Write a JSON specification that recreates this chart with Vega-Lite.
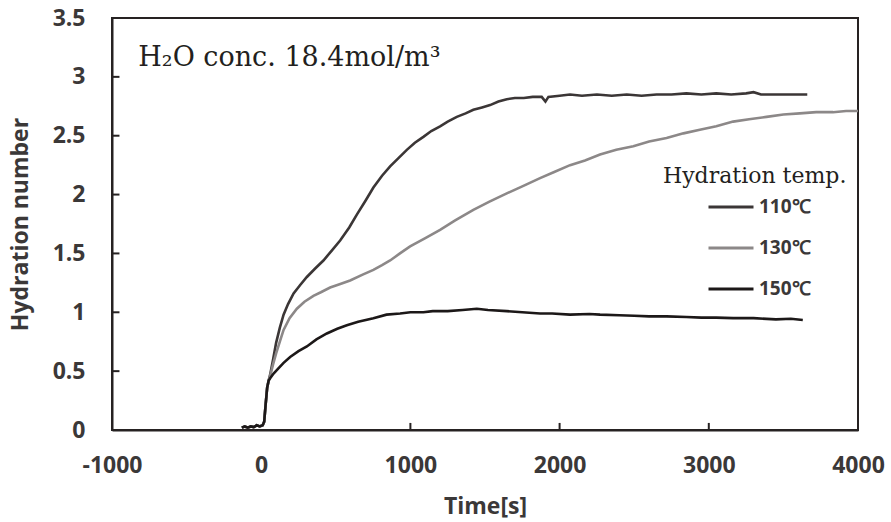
{
  "$schema": "https://vega.github.io/schema/vega-lite/v6.json",
  "width": 746,
  "height": 412,
  "autosize": {"type": "none"},
  "padding": {"left": 112, "top": 18, "right": 33, "bottom": 92},
  "background": "white",
  "config": {
    "view": {"stroke": "#262222", "strokeWidth": 2},
    "font": "Open Sans"
  },
  "datasets": {
    "curves": [
      {"t": -130, "h": 0.02, "temp": "110℃"}, {"t": -110, "h": 0.03, "temp": "110℃"}, {"t": -90, "h": 0.02, "temp": "110℃"}, {"t": -70, "h": 0.03, "temp": "110℃"}, {"t": -50, "h": 0.025, "temp": "110℃"}, {"t": -30, "h": 0.04, "temp": "110℃"}, {"t": -10, "h": 0.03, "temp": "110℃"}, {"t": 10, "h": 0.04, "temp": "110℃"}, {"t": 20, "h": 0.07, "temp": "110℃"}, {"t": 30, "h": 0.22, "temp": "110℃"}, {"t": 40, "h": 0.36, "temp": "110℃"}, {"t": 50, "h": 0.42, "temp": "110℃"},
      {"t": 60, "h": 0.47, "temp": "110℃"}, {"t": 80, "h": 0.6, "temp": "110℃"}, {"t": 100, "h": 0.74, "temp": "110℃"}, {"t": 125, "h": 0.87, "temp": "110℃"}, {"t": 150, "h": 0.98, "temp": "110℃"}, {"t": 180, "h": 1.07, "temp": "110℃"}, {"t": 217, "h": 1.16, "temp": "110℃"}, {"t": 260, "h": 1.23, "temp": "110℃"}, {"t": 306, "h": 1.3, "temp": "110℃"}, {"t": 360, "h": 1.37, "temp": "110℃"}, {"t": 417, "h": 1.44, "temp": "110℃"}, {"t": 470, "h": 1.52, "temp": "110℃"}, {"t": 529, "h": 1.61, "temp": "110℃"}, {"t": 590, "h": 1.72, "temp": "110℃"}, {"t": 641, "h": 1.83, "temp": "110℃"}, {"t": 700, "h": 1.95, "temp": "110℃"}, {"t": 752, "h": 2.06, "temp": "110℃"}, {"t": 810, "h": 2.16, "temp": "110℃"}, {"t": 864, "h": 2.24, "temp": "110℃"}, {"t": 920, "h": 2.31, "temp": "110℃"}, {"t": 976, "h": 2.38, "temp": "110℃"}, {"t": 1030, "h": 2.44, "temp": "110℃"}, {"t": 1087, "h": 2.49, "temp": "110℃"}, {"t": 1140, "h": 2.54, "temp": "110℃"}, {"t": 1199, "h": 2.58, "temp": "110℃"}, {"t": 1250, "h": 2.62, "temp": "110℃"}, {"t": 1311, "h": 2.66, "temp": "110℃"}, {"t": 1370, "h": 2.69, "temp": "110℃"}, {"t": 1422, "h": 2.72, "temp": "110℃"}, {"t": 1480, "h": 2.74, "temp": "110℃"}, {"t": 1534, "h": 2.76, "temp": "110℃"}, {"t": 1590, "h": 2.79, "temp": "110℃"}, {"t": 1646, "h": 2.81, "temp": "110℃"}, {"t": 1700, "h": 2.82, "temp": "110℃"}, {"t": 1760, "h": 2.82, "temp": "110℃"}, {"t": 1820, "h": 2.83, "temp": "110℃"}, {"t": 1880, "h": 2.83, "temp": "110℃"}, {"t": 1905, "h": 2.79, "temp": "110℃"}, {"t": 1925, "h": 2.83, "temp": "110℃"}, {"t": 2000, "h": 2.84, "temp": "110℃"}, {"t": 2070, "h": 2.85, "temp": "110℃"}, {"t": 2150, "h": 2.84, "temp": "110℃"}, {"t": 2250, "h": 2.85, "temp": "110℃"}, {"t": 2350, "h": 2.84, "temp": "110℃"}, {"t": 2450, "h": 2.85, "temp": "110℃"}, {"t": 2550, "h": 2.84, "temp": "110℃"}, {"t": 2650, "h": 2.85, "temp": "110℃"}, {"t": 2750, "h": 2.85, "temp": "110℃"}, {"t": 2850, "h": 2.86, "temp": "110℃"}, {"t": 2950, "h": 2.85, "temp": "110℃"}, {"t": 3050, "h": 2.86, "temp": "110℃"}, {"t": 3150, "h": 2.85, "temp": "110℃"}, {"t": 3250, "h": 2.86, "temp": "110℃"}, {"t": 3300, "h": 2.87, "temp": "110℃"}, {"t": 3350, "h": 2.85, "temp": "110℃"}, {"t": 3450, "h": 2.85, "temp": "110℃"}, {"t": 3550, "h": 2.85, "temp": "110℃"}, {"t": 3660, "h": 2.85, "temp": "110℃"},

      {"t": -130, "h": 0.02, "temp": "130℃"}, {"t": -110, "h": 0.03, "temp": "130℃"}, {"t": -90, "h": 0.02, "temp": "130℃"}, {"t": -70, "h": 0.03, "temp": "130℃"}, {"t": -50, "h": 0.025, "temp": "130℃"}, {"t": -30, "h": 0.04, "temp": "130℃"}, {"t": -10, "h": 0.03, "temp": "130℃"}, {"t": 10, "h": 0.04, "temp": "130℃"}, {"t": 20, "h": 0.07, "temp": "130℃"}, {"t": 30, "h": 0.22, "temp": "130℃"}, {"t": 40, "h": 0.36, "temp": "130℃"}, {"t": 50, "h": 0.42, "temp": "130℃"},
      {"t": 60, "h": 0.46, "temp": "130℃"}, {"t": 80, "h": 0.56, "temp": "130℃"}, {"t": 100, "h": 0.65, "temp": "130℃"}, {"t": 127, "h": 0.76, "temp": "130℃"}, {"t": 150, "h": 0.85, "temp": "130℃"}, {"t": 190, "h": 0.95, "temp": "130℃"}, {"t": 239, "h": 1.03, "temp": "130℃"}, {"t": 290, "h": 1.09, "temp": "130℃"}, {"t": 350, "h": 1.14, "temp": "130℃"}, {"t": 400, "h": 1.17, "temp": "130℃"}, {"t": 462, "h": 1.21, "temp": "130℃"}, {"t": 530, "h": 1.24, "temp": "130℃"}, {"t": 596, "h": 1.27, "temp": "130℃"}, {"t": 680, "h": 1.32, "temp": "130℃"}, {"t": 752, "h": 1.36, "temp": "130℃"}, {"t": 810, "h": 1.4, "temp": "130℃"}, {"t": 864, "h": 1.44, "temp": "130℃"}, {"t": 930, "h": 1.5, "temp": "130℃"}, {"t": 998, "h": 1.56, "temp": "130℃"}, {"t": 1100, "h": 1.63, "temp": "130℃"}, {"t": 1199, "h": 1.7, "temp": "130℃"}, {"t": 1300, "h": 1.78, "temp": "130℃"}, {"t": 1422, "h": 1.87, "temp": "130℃"}, {"t": 1530, "h": 1.94, "temp": "130℃"}, {"t": 1646, "h": 2.01, "temp": "130℃"}, {"t": 1750, "h": 2.07, "temp": "130℃"}, {"t": 1869, "h": 2.14, "temp": "130℃"}, {"t": 1960, "h": 2.19, "temp": "130℃"}, {"t": 2070, "h": 2.25, "temp": "130℃"}, {"t": 2170, "h": 2.29, "temp": "130℃"}, {"t": 2271, "h": 2.34, "temp": "130℃"}, {"t": 2380, "h": 2.38, "temp": "130℃"}, {"t": 2494, "h": 2.41, "temp": "130℃"}, {"t": 2600, "h": 2.45, "temp": "130℃"}, {"t": 2717, "h": 2.48, "temp": "130℃"}, {"t": 2830, "h": 2.52, "temp": "130℃"}, {"t": 2940, "h": 2.55, "temp": "130℃"}, {"t": 3050, "h": 2.58, "temp": "130℃"}, {"t": 3163, "h": 2.62, "temp": "130℃"}, {"t": 3270, "h": 2.64, "temp": "130℃"}, {"t": 3387, "h": 2.66, "temp": "130℃"}, {"t": 3500, "h": 2.68, "temp": "130℃"}, {"t": 3610, "h": 2.69, "temp": "130℃"}, {"t": 3720, "h": 2.7, "temp": "130℃"}, {"t": 3833, "h": 2.7, "temp": "130℃"}, {"t": 3920, "h": 2.71, "temp": "130℃"}, {"t": 4000, "h": 2.71, "temp": "130℃"},

      {"t": -130, "h": 0.02, "temp": "150℃"}, {"t": -110, "h": 0.03, "temp": "150℃"}, {"t": -90, "h": 0.02, "temp": "150℃"}, {"t": -70, "h": 0.03, "temp": "150℃"}, {"t": -50, "h": 0.025, "temp": "150℃"}, {"t": -30, "h": 0.04, "temp": "150℃"}, {"t": -10, "h": 0.03, "temp": "150℃"}, {"t": 10, "h": 0.04, "temp": "150℃"}, {"t": 20, "h": 0.07, "temp": "150℃"}, {"t": 30, "h": 0.22, "temp": "150℃"}, {"t": 40, "h": 0.36, "temp": "150℃"}, {"t": 50, "h": 0.42, "temp": "150℃"},
      {"t": 60, "h": 0.44, "temp": "150℃"}, {"t": 83, "h": 0.48, "temp": "150℃"}, {"t": 120, "h": 0.53, "temp": "150℃"}, {"t": 150, "h": 0.57, "temp": "150℃"}, {"t": 194, "h": 0.62, "temp": "150℃"}, {"t": 250, "h": 0.67, "temp": "150℃"}, {"t": 306, "h": 0.71, "temp": "150℃"}, {"t": 370, "h": 0.77, "temp": "150℃"}, {"t": 440, "h": 0.82, "temp": "150℃"}, {"t": 510, "h": 0.86, "temp": "150℃"}, {"t": 574, "h": 0.89, "temp": "150℃"}, {"t": 650, "h": 0.92, "temp": "150℃"}, {"t": 752, "h": 0.95, "temp": "150℃"}, {"t": 840, "h": 0.98, "temp": "150℃"}, {"t": 931, "h": 0.99, "temp": "150℃"}, {"t": 1000, "h": 1.0, "temp": "150℃"}, {"t": 1087, "h": 1.0, "temp": "150℃"}, {"t": 1150, "h": 1.01, "temp": "150℃"}, {"t": 1250, "h": 1.01, "temp": "150℃"}, {"t": 1350, "h": 1.02, "temp": "150℃"}, {"t": 1445, "h": 1.03, "temp": "150℃"}, {"t": 1520, "h": 1.02, "temp": "150℃"}, {"t": 1646, "h": 1.01, "temp": "150℃"}, {"t": 1750, "h": 1.0, "temp": "150℃"}, {"t": 1869, "h": 0.99, "temp": "150℃"}, {"t": 1950, "h": 0.99, "temp": "150℃"}, {"t": 2070, "h": 0.98, "temp": "150℃"}, {"t": 2200, "h": 0.985, "temp": "150℃"}, {"t": 2271, "h": 0.98, "temp": "150℃"}, {"t": 2400, "h": 0.975, "temp": "150℃"}, {"t": 2500, "h": 0.97, "temp": "150℃"}, {"t": 2600, "h": 0.965, "temp": "150℃"}, {"t": 2717, "h": 0.965, "temp": "150℃"}, {"t": 2850, "h": 0.96, "temp": "150℃"}, {"t": 2950, "h": 0.955, "temp": "150℃"}, {"t": 3050, "h": 0.955, "temp": "150℃"}, {"t": 3163, "h": 0.95, "temp": "150℃"}, {"t": 3300, "h": 0.95, "temp": "150℃"}, {"t": 3450, "h": 0.94, "temp": "150℃"}, {"t": 3550, "h": 0.945, "temp": "150℃"}, {"t": 3630, "h": 0.935, "temp": "150℃"}
    ],
    "xticks": [{"t": 1000}, {"t": 2000}, {"t": 3000}],
    "yticks": [{"h": 0.5}, {"h": 1}, {"h": 1.5}, {"h": 2}, {"h": 2.5}, {"h": 3}],
    "note1": [{"t": -824, "h": 3.09, "label": "H₂O conc. 18.4mol/m³"}],
    "note2": [{"t": 2693, "h": 2.1, "label": "Hydration temp."}]
  },
  "layer": [
    {
      "data": {"name": "xticks"},
      "mark": {"type": "rule", "color": "#262222", "strokeWidth": 2},
      "encoding": {
        "x": {"field": "t", "type": "quantitative"},
        "y": {"datum": 0},
        "y2": {"datum": 0.06}
      }
    },
    {
      "data": {"name": "yticks"},
      "mark": {"type": "rule", "color": "#262222", "strokeWidth": 2},
      "encoding": {
        "y": {"field": "h", "type": "quantitative"},
        "x": {"datum": -1000},
        "x2": {"datum": -950}
      }
    },
    {
      "data": {"name": "curves"},
      "mark": {"type": "line", "strokeWidth": 2.6},
      "encoding": {
        "x": {
          "field": "t", "type": "quantitative",
          "scale": {"domain": [-1000, 4000], "nice": false, "zero": false},
          "axis": {
            "values": [-1000, 0, 1000, 2000, 3000, 4000],
            "labelExpr": "'' + datum.value",
            "labelFont": "Open Sans", "labelFontWeight": "bold", "labelFontSize": 23, "labelColor": "#3b3838",
            "labelFlush": false, "labelPadding": 24, "labelOverlap": false,
            "ticks": false,
            "domainColor": "#262222", "domainWidth": 2, "grid": false,
            "title": "Time[s]", "titleFont": "Open Sans", "titleFontWeight": "bold", "titleFontSize": 23, "titleColor": "#3b3838", "titlePadding": 18
          }
        },
        "y": {
          "field": "h", "type": "quantitative",
          "scale": {"domain": [0, 3.5], "nice": false},
          "axis": {
            "values": [0, 0.5, 1, 1.5, 2, 2.5, 3, 3.5],
            "labelExpr": "'' + datum.value",
            "labelFont": "Open Sans", "labelFontWeight": "bold", "labelFontSize": 23, "labelColor": "#3b3838",
            "labelFlush": false, "labelPadding": 27, "labelOverlap": false,
            "ticks": false,
            "domainColor": "#262222", "domainWidth": 2, "grid": false,
            "title": "Hydration number", "titleFont": "Open Sans", "titleFontWeight": "bold", "titleFontSize": 23, "titleColor": "#3b3838", "titlePadding": 20
          }
        },
        "color": {
          "field": "temp", "type": "nominal",
          "scale": {"domain": ["110℃", "130℃", "150℃"], "range": ["#3b3636", "#8c8888", "#1c1818"]},
          "legend": {
            "orient": "none", "legendX": 595, "legendY": 169, "title": null, "padding": 0,
            "symbolType": "stroke", "symbolSize": 2025, "symbolStrokeWidth": 3, "clipHeight": 40, "rowPadding": 1,
            "labelFont": "Open Sans", "labelFontWeight": "bold", "labelFontSize": 19, "labelColor": "#3b3838", "labelOffset": 4
          }
        }
      }
    },
    {
      "data": {"name": "note1"},
      "mark": {"type": "text", "align": "left", "baseline": "alphabetic", "font": "DejaVu Serif", "fontSize": 27, "color": "#231f20"},
      "encoding": {
        "x": {"field": "t", "type": "quantitative"},
        "y": {"field": "h", "type": "quantitative"},
        "text": {"field": "label"}
      }
    },
    {
      "data": {"name": "note2"},
      "mark": {"type": "text", "align": "left", "baseline": "alphabetic", "font": "DejaVu Serif", "fontSize": 22, "color": "#231f20"},
      "encoding": {
        "x": {"field": "t", "type": "quantitative"},
        "y": {"field": "h", "type": "quantitative"},
        "text": {"field": "label"}
      }
    }
  ]
}
